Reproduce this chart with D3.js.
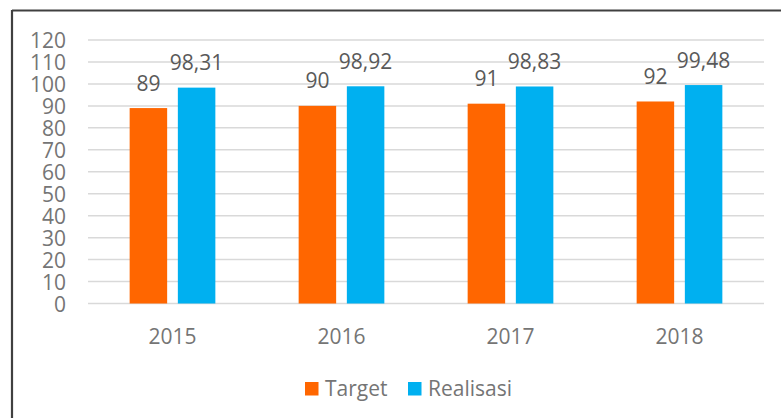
<!DOCTYPE html>
<html>
<head>
<meta charset="utf-8">
<script src="https://cdn.jsdelivr.net/npm/d3@7"></script>
<style>
  html, body { margin: 0; padding: 0; background: #fff; }
  svg { display: block; }
  text { font-family: "Open Sans", "Noto Sans", sans-serif; }
</style>
</head>
<body>
<script>
const categories = ["2015", "2016", "2017", "2018"];
const seriesNames = ["Target", "Realisasi"];
const targetValues = [89, 90, 91, 92];
const realisasiValues = [98.31, 98.92, 98.83, 99.48];
const yTicks = [0, 10, 20, 30, 40, 50, 60, 70, 80, 90, 100, 110, 120];
const colors = ["#FF6600", "#00B0F0"];

const W = 781, H = 418;
const svg = d3.select("body").append("svg").attr("width", W).attr("height", H);

// outer frame (top and left visible)
svg.append("line").attr("x1", 12).attr("x2", W).attr("y1", 10.5).attr("y2", 10.5)
  .attr("stroke", "#404040").attr("stroke-width", 2.2);
svg.append("line").attr("x1", 12).attr("x2", 12).attr("y1", 10).attr("y2", H)
  .attr("stroke", "#404040").attr("stroke-width", 2.2);

const plot = { left: 88, right: 764, top: 40, bottom: 303.5 };

const x0 = d3.scaleBand().domain(categories).range([plot.left, plot.right]).paddingInner(0).paddingOuter(0);
const y = d3.scaleLinear().domain([0, 120]).range([plot.bottom, plot.top]);

// gridlines
svg.append("g").selectAll("line").data(yTicks).join("line")
  .attr("x1", plot.left).attr("x2", plot.right)
  .attr("y1", d => y(d)).attr("y2", d => y(d))
  .attr("stroke", "#d9d9d9").attr("stroke-width", 1.5);

// y axis labels
const yAxis = d3.axisLeft(y).tickValues(yTicks).tickSize(0).tickPadding(0);
const gy = svg.append("g").attr("transform", "translate(66,0)").call(yAxis);
gy.select(".domain").remove();
gy.selectAll("text").attr("font-size", 21).attr("fill", "#757575")
  .attr("font-family", '"Open Sans", sans-serif').attr("dy", "0.36em");

// x axis labels
const xAxis = d3.axisBottom(x0).tickSize(0).tickPadding(0);
const gx = svg.append("g").attr("transform", `translate(0,${plot.bottom})`).call(xAxis);
gx.select(".domain").remove();
gx.selectAll("text").attr("font-size", 21).attr("fill", "#757575")
  .attr("font-family", '"Open Sans", sans-serif')
  .attr("y", 40).attr("dy", 0);

// bars
const barW = 37.5, gap = 10.7;
const x1 = d3.scaleOrdinal().domain(seriesNames).range([-(gap / 2 + barW), gap / 2]);
const rows = categories.map((c, i) => ({ cat: c, vals: [targetValues[i], realisasiValues[i]] }));

const fmt = v => String(v).replace(".", ",");

rows.forEach(r => {
  const cx = x0(r.cat) + x0.bandwidth() / 2;
  seriesNames.forEach((s, j) => {
    const v = r.vals[j];
    const bx = cx + x1(s);
    svg.append("rect")
      .attr("x", bx).attr("y", y(v))
      .attr("width", barW).attr("height", y(0) - y(v))
      .attr("fill", colors[j]);
    svg.append("text")
      .attr("x", bx + barW / 2).attr("y", y(v) - 17.5)
      .attr("text-anchor", "middle")
      .attr("font-size", 21).attr("fill", "#595959")
      .text(fmt(v));
  });
});

// legend
const legend = [
  { name: seriesNames[0], color: colors[0], sx: 305, tx: 325 },
  { name: seriesNames[1], color: colors[1], sx: 408, tx: 428 }
];
legend.forEach(l => {
  svg.append("rect").attr("x", l.sx).attr("y", 382).attr("width", 13.5).attr("height", 13.5).attr("fill", l.color);
  svg.append("text").attr("x", l.tx).attr("y", 396).attr("font-size", 21).attr("fill", "#757575").text(l.name);
});
</script>
</body>
</html>
